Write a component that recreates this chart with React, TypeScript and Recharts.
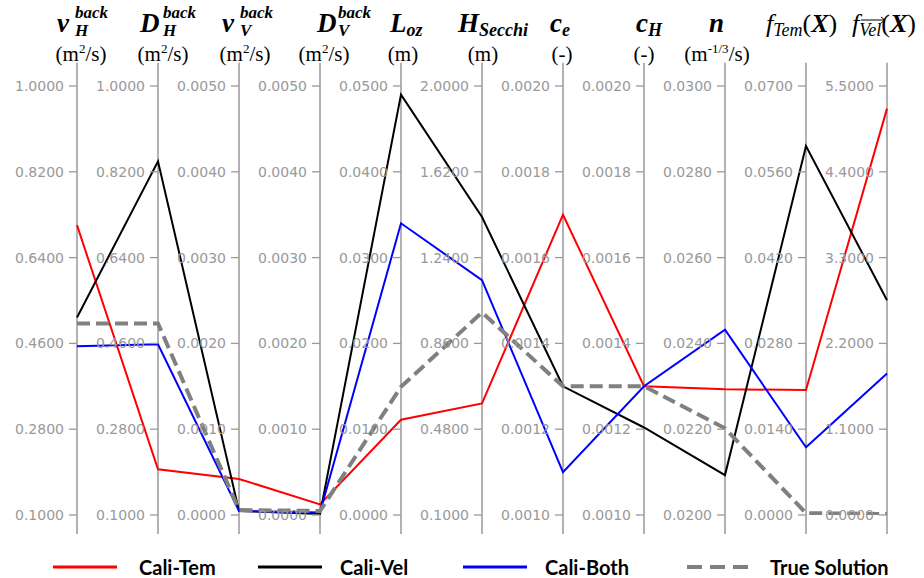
import React from "react";
import { LineChart, Line, XAxis, YAxis, ReferenceLine, ReferenceDot, Legend } from "recharts";

// one category per vertical axis of the parallel-coordinates plot
const axisKeys = ["nuH", "DH", "nuV", "DV", "Loz", "HSecchi", "ce", "cH", "n", "fTem", "fVel"];

const axisTicks: string[][] = [
  ["0.1000", "0.2800", "0.4600", "0.6400", "0.8200", "1.0000"],
  ["0.1000", "0.2800", "0.4600", "0.6400", "0.8200", "1.0000"],
  ["0.0000", "0.0010", "0.0020", "0.0030", "0.0040", "0.0050"],
  ["0.0000", "0.0010", "0.0020", "0.0030", "0.0040", "0.0050"],
  ["0.0000", "0.0100", "0.0200", "0.0300", "0.0400", "0.0500"],
  ["0.1000", "0.4800", "0.8600", "1.2400", "1.6200", "2.0000"],
  ["0.0010", "0.0012", "0.0014", "0.0016", "0.0018", "0.0020"],
  ["0.0010", "0.0012", "0.0014", "0.0016", "0.0018", "0.0020"],
  ["0.0200", "0.0220", "0.0240", "0.0260", "0.0280", "0.0300"],
  ["0.0000", "0.0140", "0.0280", "0.0420", "0.0560", "0.0700"],
  ["0.0000", "1.1000", "2.2000", "3.3000", "4.4000", "5.5000"],
];

const caliTem = [0.708, 0.196, 0.00042, 0.000124, 0.0111, 0.594, 0.0017, 0.0013, 0.02293, 0.0204, 5.21];
const caliVel = [0.5145, 0.842, 0.000047, 0.000012, 0.049, 1.42, 0.0013, 0.001204, 0.02093, 0.0602, 2.754];
const caliBoth = [0.454, 0.458, 0.000047, 0.00003, 0.034, 1.14, 0.0011, 0.0013, 0.02432, 0.01104, 1.815];
const trueSolution = [0.502, 0.502, 0.000058, 0.000047, 0.01494, 0.997, 0.0013, 0.0013, 0.02202, 0.0003, 0.0128];

const series = [
  { key: "tem", name: "Cali-Tem", color: "#ff0000", width: 2, dash: undefined as string | undefined },
  { key: "vel", name: "Cali-Vel", color: "#000000", width: 2, dash: undefined },
  { key: "both", name: "Cali-Both", color: "#0000ff", width: 2, dash: undefined },
  { key: "truth", name: "True Solution", color: "#808080", width: 4, dash: "13 6" },
];

const GRAY = "#999";
const MATH = "'Liberation Serif', serif";

const scaleOf = (i: number) => {
  const lo = parseFloat(axisTicks[i][0]);
  const hi = parseFloat(axisTicks[i][axisTicks[i].length - 1]);
  return (v: number) => (v - lo) / (hi - lo);
};

const data = axisKeys.map((axis, i) => {
  const norm = scaleOf(i);
  return {
    axis,
    tem: norm(caliTem[i]),
    vel: norm(caliVel[i]),
    both: norm(caliBoth[i]),
    truth: norm(trueSolution[i]),
  };
});

const Stacked = ({ x, main, mx, sup, sub, sx }: any) => (
  <g fontFamily={MATH} fontWeight="bold" fontStyle="italic" fill="#000">
    <text x={x + mx} y={32} fontSize={27}>{main}</text>
    <text x={x + sx} y={18} fontSize={17}>{sup}</text>
    <text x={x + sx} y={36} fontSize={17}>{sub}</text>
  </g>
);

const Subbed = ({ x, main, mx, sub }: any) => (
  <text x={x + mx} y={32} fontFamily={MATH} fontWeight="bold" fontStyle="italic" fontSize={27} fill="#000">
    {main}
    <tspan fontSize={18} dy={4}>{sub}</tspan>
  </text>
);

const Unit = ({ x, sup, body = "s" }: any) => (
  <text x={x} y={61} textAnchor="middle" fontFamily={MATH} fontSize={21} fill="#000">
    (m<tspan fontSize={13} dy={-8}>{sup}</tspan>
    <tspan dy={8}>/{body})</tspan>
  </text>
);

const Dash = ({ x }: any) => (
  <text x={x} y={61} textAnchor="middle" fontFamily={MATH} fontSize={21} fill="#000">(-)</text>
);

const HeaderTick = (props: any) => {
  const { x, payload } = props;
  const i = axisKeys.indexOf(payload.value);
  switch (i) {
    case 0:
      return (<g><Stacked x={x} main="ν" mx={-20} sup="back" sub="H" sx={-2} /><Unit x={x + 4} sup="2" /></g>);
    case 1:
      return (<g><Stacked x={x} main="D" mx={-18} sup="back" sub="H" sx={5} /><Unit x={x + 5} sup="2" /></g>);
    case 2:
      return (<g><Stacked x={x} main="ν" mx={-17} sup="back" sub="V" sx={1} /><Unit x={x + 6} sup="2" /></g>);
    case 3:
      return (<g><Stacked x={x} main="D" mx={-3} sup="back" sub="V" sx={18} /><Unit x={x + 4} sup="2" /></g>);
    case 4:
      return (<g><Subbed x={x} main="L" mx={-11} sub="oz" />
        <text x={x + 2} y={61} textAnchor="middle" fontFamily={MATH} fontSize={21}>(m)</text></g>);
    case 5:
      return (<g><Subbed x={x} main="H" mx={-24} sub="Secchi" />
        <text x={x + 1} y={61} textAnchor="middle" fontFamily={MATH} fontSize={21}>(m)</text></g>);
    case 6:
      return (<g><Subbed x={x} main="c" mx={-13} sub="e" /><Dash x={x - 1} /></g>);
    case 7:
      return (<g><Subbed x={x} main="c" mx={-8} sub="H" /><Dash x={x} /></g>);
    case 8:
      return (<g>
        <text x={x - 16} y={32} fontFamily={MATH} fontWeight="bold" fontStyle="italic" fontSize={27}>n</text>
        <Unit x={x - 8} sup="-1/3" />
      </g>);
    case 9:
      return (
        <text x={x - 40} y={32} fontFamily={MATH} fontSize={26} fill="#000">
          <tspan fontStyle="italic">f</tspan>
          <tspan fontStyle="italic" fontSize={18} dy={4}>Tem</tspan>
          <tspan dy={-4}>(</tspan>
          <tspan fontStyle="italic" fontWeight="bold">X</tspan>)
        </text>
      );
    case 10:
      return (
        <g>
          <text x={x - 35} y={32} fontFamily={MATH} fontSize={26} fill="#000">
            <tspan fontStyle="italic">f</tspan>
            <tspan fontStyle="italic" fontSize={18} dy={4}>Vel</tspan>
            <tspan dy={-4}>(</tspan>
            <tspan fontStyle="italic" fontWeight="bold">X</tspan>)
          </text>
          <line x1={x - 26} x2={x - 3} y1={20} y2={20} stroke="#000" strokeWidth={1} />
          <path d={`M${x - 6},17 L${x - 2},20 L${x - 6},23`} fill="none" stroke="#000" strokeWidth={1} />
        </g>
      );
    default:
      return null;
  }
};

const legendLayout = [
  { line: 53, text: 139 },
  { line: 258, text: 340 },
  { line: 463, text: 545 },
  { line: 687, text: 770 },
];

const renderLegend = () => (
  <div style={{ position: "relative", width: 924, height: 30 }}>
    {series.map((s, i) => (
      <React.Fragment key={s.key}>
        <svg style={{ position: "absolute", left: legendLayout[i].line, top: 11 }} width={66} height={8}>
          <line x1={0} x2={64} y1={4} y2={4} stroke={s.color} strokeWidth={s.dash ? 4 : 3} strokeDasharray={s.dash ? "15 8" : undefined} />
        </svg>
        <span
          style={{
            position: "absolute",
            left: legendLayout[i].text,
            top: 2,
            fontFamily: "Lato, sans-serif",
            fontWeight: "bold",
            fontSize: 20,
            lineHeight: "26px",
            color: "#000",
            whiteSpace: "nowrap",
          }}
        >
          {s.name}
        </span>
      </React.Fragment>
    ))}
  </div>
);

export default function App() {
  return (
    <div style={{ position: "absolute", left: 0, top: 0, width: 924, height: 578, background: "#fff" }}>
      <LineChart width={924} height={578} data={data} margin={{ top: 6, right: 37, bottom: 63, left: 77 }}>
        <XAxis
          dataKey="axis"
          orientation="top"
          height={80}
          axisLine={false}
          tickLine={false}
          interval={0}
          tick={HeaderTick}
        />
        <YAxis hide domain={[0, 1]} allowDataOverflow />
        {axisKeys.map((k) => (
          <ReferenceLine
            key={`axis-${k}`}
            segment={[{ x: k, y: 1.054 }, { x: k, y: -0.044 }]}
            ifOverflow="visible"
            stroke={GRAY}
            strokeWidth={1.5}
          />
        ))}
        {axisKeys.flatMap((k, i) => {
          const norm = scaleOf(i);
          return axisTicks[i].map((lab) => (
            <ReferenceDot
              key={`tick-${k}-${lab}`}
              x={k}
              y={norm(parseFloat(lab))}
              r={0}
              ifOverflow="visible"
              shape={(p: any) => (
                <g>
                  <line x1={p.cx - 8} x2={p.cx} y1={p.cy} y2={p.cy} stroke={GRAY} strokeWidth={1.3} />
                  <text x={p.cx - 13} y={p.cy} dy="0.36em" textAnchor="end" fontFamily="'DejaVu Sans', sans-serif" fontSize={14} fill={GRAY}>
                    {lab}
                  </text>
                </g>
              )}
            />
          ));
        })}
        {series.map((s) => (
          <Line
            key={s.key}
            type="linear"
            dataKey={s.key}
            name={s.name}
            stroke={s.color}
            strokeWidth={s.width}
            strokeDasharray={s.dash}
            dot={false}
            activeDot={false}
            isAnimationActive={false}
          />
        ))}
        <Legend layout="horizontal" verticalAlign="middle" align="center" wrapperStyle={{ top: 552, left: 0, width: 924 }} content={renderLegend} />
      </LineChart>
    </div>
  );
}
